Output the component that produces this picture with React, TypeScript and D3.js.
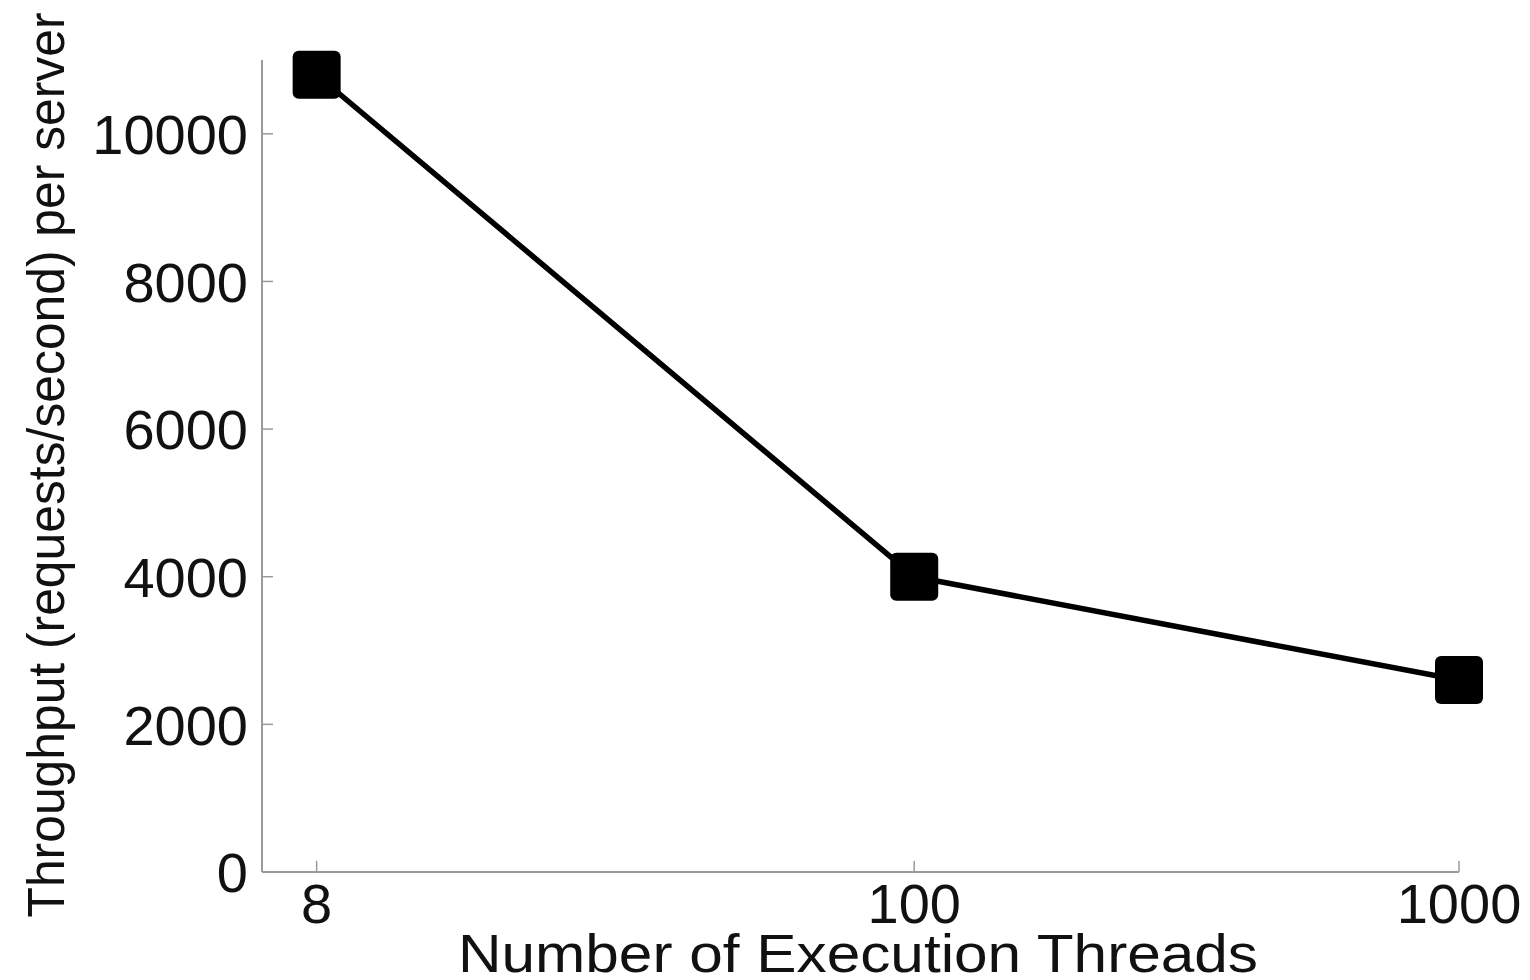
import React, { useEffect, useRef } from 'react';
import * as d3 from 'd3';

const threads = [8, 100, 1000];
const throughput = [10800, 4000, 2600];
const yTicks = [0, 2000, 4000, 6000, 8000, 10000];
const xLabel = 'Number of Execution Threads';
const yLabel = 'Throughput (requests/second) per server';

const W = 1530, H = 980;
const left = 262, right = 1459, top = 60, bottom = 872;

const App = () => {
  const ref = useRef<SVGSVGElement>(null);

  useEffect(() => {
    const svg = d3.select(ref.current);
    svg.selectAll('*').remove();

    const x = d3.scaleLog().domain([6.35, 1000]).range([left, right]);
    const y = d3.scaleLinear().domain([0, 11000]).range([bottom, top]);
    const font = 'Liberation Sans, Arial, sans-serif';
    const axisCol = '#9a9a9a';

    // axes lines
    svg.append('line').attr('x1', left).attr('x2', right).attr('y1', bottom).attr('y2', bottom)
      .attr('stroke', axisCol).attr('stroke-width', 2);
    svg.append('line').attr('x1', left).attr('x2', left).attr('y1', bottom).attr('y2', top)
      .attr('stroke', axisCol).attr('stroke-width', 2);

    // y ticks
    const yg = svg.append('g');
    yTicks.forEach(t => {
      yg.append('line').attr('x1', left).attr('x2', left + 11).attr('y1', y(t)).attr('y2', y(t))
        .attr('stroke', axisCol).attr('stroke-width', 1.5);
      yg.append('text').attr('x', left - 14).attr('y', y(t)).attr('dy', '0.36em')
        .attr('text-anchor', 'end').attr('font-family', font).attr('font-size', 56)
        .attr('fill', '#111').text(String(t));
    });

    // x ticks
    const xg = svg.append('g');
    threads.forEach(t => {
      xg.append('line').attr('x1', x(t)).attr('x2', x(t)).attr('y1', bottom).attr('y2', bottom - 11)
        .attr('stroke', axisCol).attr('stroke-width', 1.5);
      xg.append('text').attr('x', x(t)).attr('y', bottom + 31).attr('dy', '0.36em')
        .attr('text-anchor', 'middle').attr('font-family', font).attr('font-size', 56)
        .attr('fill', '#111').text(String(t));
    });

    // line
    const line = d3.line<number>().x((d, i) => x(threads[i])).y(d => y(d));
    svg.append('path').datum(throughput).attr('d', line)
      .attr('fill', 'none').attr('stroke', '#000').attr('stroke-width', 5.5)
      .attr('stroke-linejoin', 'round');

    // markers
    const s = 48;
    svg.selectAll('.mk').data(throughput).enter().append('rect')
      .attr('class', 'mk')
      .attr('x', (d, i) => x(threads[i]) - s / 2)
      .attr('y', d => y(d) - s / 2)
      .attr('width', s).attr('height', s).attr('rx', 6)
      .attr('fill', '#000');

    // axis labels
    svg.append('text').attr('x', 858).attr('y', 972)
      .attr('text-anchor', 'middle').attr('font-family', font).attr('font-size', 54)
      .attr('textLength', 800).attr('lengthAdjust', 'spacingAndGlyphs')
      .attr('fill', '#111').text(xLabel);
    svg.append('text').attr('transform', `translate(64, 465) rotate(-90)`)
      .attr('text-anchor', 'middle').attr('font-family', font).attr('font-size', 52)
      .attr('textLength', 905).attr('lengthAdjust', 'spacingAndGlyphs')
      .attr('fill', '#111').text(yLabel);
  }, []);

  return (
    <div style={{ position: 'absolute', left: 0, top: 0, background: '#fff' }}>
      <svg ref={ref} width={W} height={H} style={{ display: 'block' }} />
    </div>
  );
};

export default App;
